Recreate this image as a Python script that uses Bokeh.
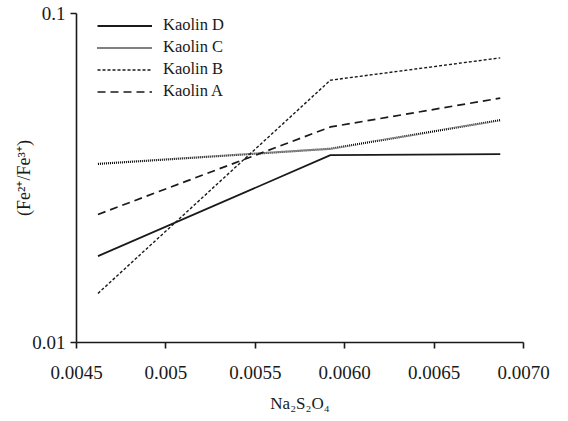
from bokeh.plotting import figure
from bokeh.models import FixedTicker, Legend, LegendItem
from bokeh.embed import file_html
from bokeh.resources import INLINE

x_vals = [0.00462, 0.00592, 0.00687]
kaolin_d = [0.0183, 0.0371, 0.0374]
kaolin_c = [0.0349, 0.0388, 0.0474]
kaolin_b = [0.0141, 0.0627, 0.0733]
kaolin_a = [0.0245, 0.0452, 0.0553]

x_ticks = [0.0045, 0.005, 0.0055, 0.0060, 0.0065, 0.0070]
x_tick_labels = ["0.0045", "0.005", "0.0055", "0.0060", "0.0065", "0.0070"]
y_ticks = [0.01, 0.1]
y_tick_labels = ["0.01", "0.1"]

FONT = "Liberation Serif"

p = figure(width=552, height=417, y_axis_type="log",
           x_range=(0.0045, 0.0070), y_range=(0.01, 0.1),
           output_backend="svg", toolbar_location=None)
p.min_border_left = 76
p.min_border_right = 29
p.min_border_top = 13
p.min_border_bottom = 75
p.outline_line_color = None
p.xgrid.visible = False
p.ygrid.visible = False

r_d = p.line(x_vals, kaolin_d, line_color="#1a1a1a", line_width=1.8)
r_c = p.line(x_vals, kaolin_c, line_color="#000000", line_width=2.2, line_dash="1 1")
r_b = p.line(x_vals, kaolin_b, line_color="#1a1a1a", line_width=1.4, line_dash="3 2")
r_a = p.line(x_vals, kaolin_a, line_color="#1a1a1a", line_width=1.7, line_dash="8 5")

legend = Legend(items=[
    LegendItem(label="Kaolin D", renderers=[r_d]),
    LegendItem(label="Kaolin C", renderers=[r_c]),
    LegendItem(label="Kaolin B", renderers=[r_b]),
    LegendItem(label="Kaolin A", renderers=[r_a]),
], location=(21, 241))
legend.border_line_color = None
legend.background_fill_alpha = 0
legend.label_text_font = FONT
legend.label_text_font_size = "16.5px"
legend.label_text_color = "#1a1a1a"
legend.glyph_width = 55
legend.glyph_height = 19
legend.label_height = 19
legend.spacing = 2
legend.label_standoff = 11
legend.margin = 0
legend.padding = 0
p.add_layout(legend)

for ax in (p.xaxis[0], p.yaxis[0]):
    ax.axis_line_width = 1.6
    ax.axis_line_color = "#1a1a1a"
    ax.major_tick_line_width = 1.6
    ax.major_tick_line_color = "#1a1a1a"
    ax.major_tick_in = 0
    ax.major_tick_out = 6
    ax.minor_tick_line_color = None
    ax.major_label_text_font = FONT
    ax.major_label_text_font_size = "19px"
    ax.major_label_text_color = "#1a1a1a"
    ax.axis_label_text_font = FONT
    ax.axis_label_text_font_style = "normal"
    ax.axis_label_text_color = "#1a1a1a"

p.xaxis.ticker = FixedTicker(ticks=x_ticks)
p.xaxis.major_label_overrides = {t: l for t, l in zip(x_ticks, x_tick_labels)}
p.xaxis.axis_label = "Na₂S₂O₄"
p.xaxis.axis_label_text_font_size = "17px"
p.xaxis.axis_label_standoff = 12
p.xaxis.major_label_standoff = 17

p.yaxis.ticker = FixedTicker(ticks=y_ticks)
p.yaxis.major_label_overrides = {t: l for t, l in zip(y_ticks, y_tick_labels)}
p.yaxis.axis_label = "(Fe²⁺/Fe³⁺)"
p.yaxis.axis_label_text_font_size = "18px"
p.yaxis.axis_label_standoff = -5
p.yaxis.major_label_standoff = 5

open("out.html", "w").write(file_html(p, INLINE))
